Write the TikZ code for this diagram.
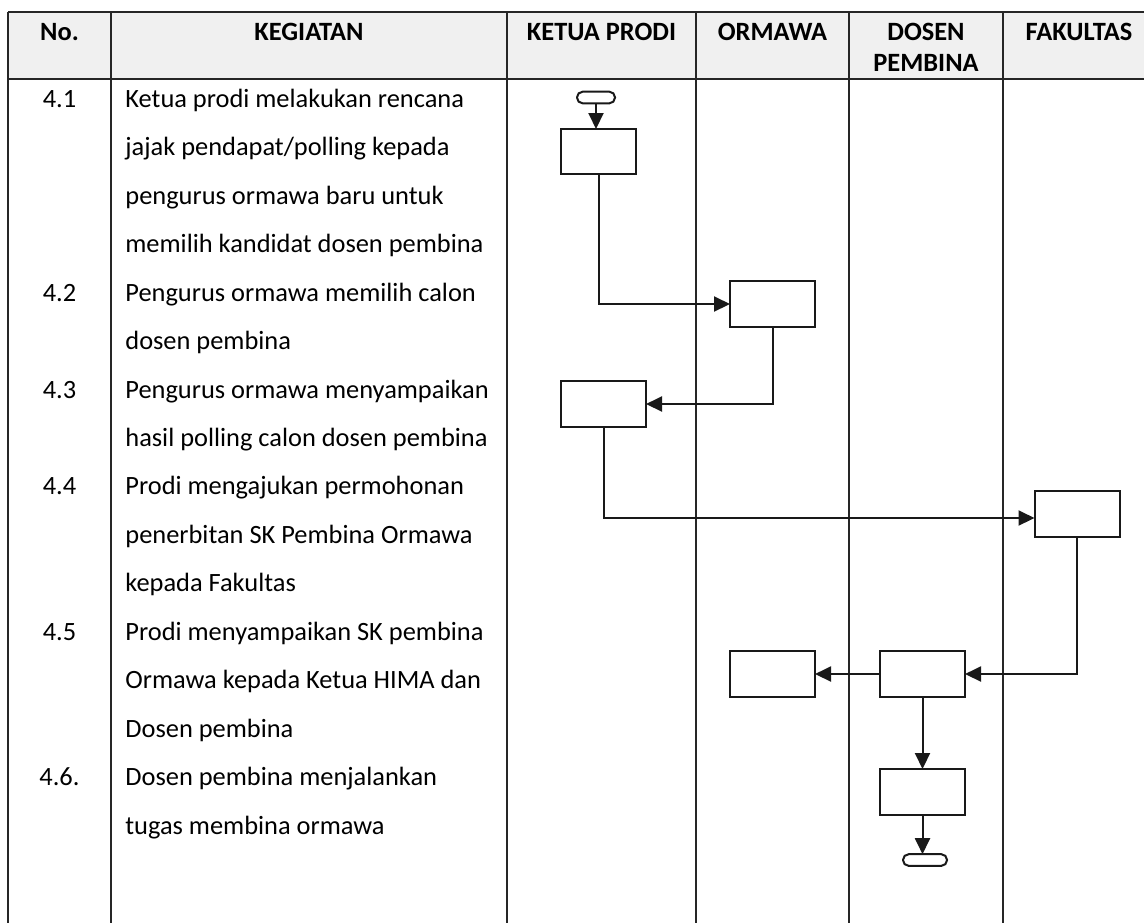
\documentclass[tikz,border=0pt]{standalone}
\usepackage{fontspec}
\setmainfont{Carlito}
\usetikzlibrary{arrows.meta}
\begin{document}
\begin{tikzpicture}[x=0.5pt,y=-0.5pt,
  tbl/.style={line width=1pt, draw=black!85},
  hdr/.style={fill=black!6},
  hd/.style={anchor=base, inner sep=0pt, font=\bfseries\fontsize{13.2}{15}\selectfont},
  txt/.style={anchor=base west, inner sep=0pt, font=\fontsize{13.2}{15}\selectfont},
  num/.style={anchor=base, inner sep=0pt, font=\fontsize{13.2}{15}\selectfont},
  proc/.style={draw=black!90, line width=1pt, minimum width=42.5pt, minimum height=23pt, inner sep=0pt, outer sep=0pt},
  term/.style={draw=black!90, line width=1pt, rounded corners=2.8pt, minimum height=5.8pt, inner sep=0pt, outer sep=0pt},
  arr/.style={draw=black!90, line width=1pt, -{Triangle[length=8pt,width=7.5pt]}}
]
\useasboundingbox (0,0) rectangle (1144,923);
% table
\fill[hdr] (8,12) rectangle (1144,79);
\draw[tbl] (8,12) -- (1144,12);
\draw[tbl] (8,79) -- (1144,79);
\foreach \xx in {8,111,507,696,849,1003} \draw[tbl] (\xx,12) -- (\xx,923);
% header
\node[hd] (hno) at (59.5,40.7) {No.};
\node[hd] (hkeg) at (309,40.7) {KEGIATAN};
\node[hd] (hkp) at (601.5,40.7) {KETUA PRODI};
\node[hd] (horm) at (772.5,40.7) {ORMAWA};
\node[hd] (hdos) at (926,40.7) {DOSEN};
\node[hd] (hdosb) at (926,71.5) {PEMBINA};
\node[hd] (hfak) at (1079,40.7) {FAKULTAS};
% numbers
\node[num] (n1) at (59.5,107.3) {4.1};
\node[num] (n2) at (59.5,301.1) {4.2};
\node[num] (n3) at (59.5,398.0) {4.3};
\node[num] (n4) at (59.5,494.9) {4.4};
\node[num] (n5) at (59.5,640.3) {4.5};
\node[num] (n6) at (59.5,785.6) {4.6.};
% activities
\node[txt] (t0) at (125,107.3) {Ketua prodi melakukan rencana};
\node[txt] (t1) at (125,155.8) {jajak pendapat/polling kepada};
\node[txt] (t2) at (125,204.2) {pengurus ormawa baru untuk};
\node[txt] (t3) at (125,252.7) {memilih kandidat dosen pembina};
\node[txt] (t4) at (125,301.1) {Pengurus ormawa memilih calon};
\node[txt] (t5) at (125,349.6) {dosen pembina};
\node[txt] (t6) at (125,398.0) {Pengurus ormawa menyampaikan};
\node[txt] (t7) at (125,446.5) {hasil polling calon dosen pembina};
\node[txt] (t8) at (125,494.9) {Prodi mengajukan permohonan};
\node[txt] (t9) at (125,543.4) {penerbitan SK Pembina Ormawa};
\node[txt] (t10) at (125,591.8) {kepada Fakultas};
\node[txt] (t11) at (125,640.3) {Prodi menyampaikan SK pembina};
\node[txt] (t12) at (125,688.7) {Ormawa kepada Ketua HIMA dan};
\node[txt] (t13) at (125,737.2) {Dosen pembina};
\node[txt] (t14) at (125,785.6) {Dosen pembina menjalankan};
\node[txt] (t15) at (125,834.1) {tugas membina ormawa};
% flow shapes
\node[term, minimum width=19pt] (start) at (596,97.5) {};
\node[proc, minimum width=37.5pt, minimum height=22.5pt] (b1) at (598.5,151.5) {};
\node[proc] (b2) at (772.5,304) {};
\node[proc] (b3) at (603.5,404) {};
\node[proc] (b4) at (1077,514) {};
\node[proc] (b5) at (772.5,674) {};
\node[proc] (b6) at (922.5,674) {};
\node[proc] (b7) at (922.5,792) {};
\node[term, minimum width=22pt] (end) at (925,860) {};
% connectors
\draw[arr] (start.south) -- (start.south |- b1.north);
\draw[arr] (b1.south) |- (b2.west);
\draw[arr] (b2.south) |- (b3.east);
\draw[arr] (b3.south) |- ([yshift=-2pt]b4.west);
\draw[arr] (b4.south) |- (b6.east);
\draw[arr] (b6.west) -- (b5.east);
\draw[arr] (b6.south) -- (b7.north);
\draw[arr] (b7.south) -- (b7.south |- end.north);
\end{tikzpicture}
\end{document}
